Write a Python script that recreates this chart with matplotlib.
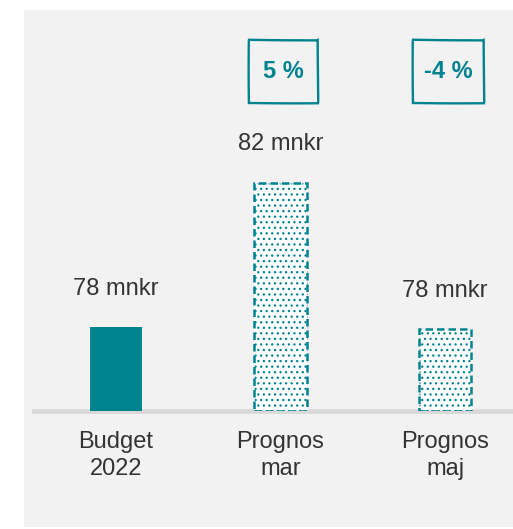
import matplotlib.pyplot as plt
from matplotlib.patches import Rectangle

# --------------------------------------------------------------------------- #
# Data                                                                        #
# --------------------------------------------------------------------------- #
categories = ["Budget\n2022", "Prognos\nmar", "Prognos\nmaj"]
values = [78.0, 82.0, 77.95]
value_labels = ["78 mnkr", "82 mnkr", "78 mnkr"]
is_forecast = [False, True, True]
change_labels = [None, "5 %", "-4 %"]

TEAL = "#00838F"
TEXT = "#333333"
PANEL = "#F2F2F2"
BASE = "#D9D9D9"

W, H = 513, 529
fig = plt.figure(figsize=(W / 100, H / 100), dpi=100)
plt.rcParams["font.family"] = ["Liberation Sans", "DejaVu Sans"]
plt.rcParams["hatch.linewidth"] = 0.9

# grey panel behind everything
fig.patches.append(Rectangle((24 / W, 2 / H), 1 - 24 / W, (527 - 2 - 8) / H,
                             transform=fig.transFigure, facecolor=PANEL,
                             edgecolor="none", zorder=-10))

ax = fig.add_axes([34 / W, (H - 411) / H, (W - 34) / W, 401 / H])
ax.set_facecolor("none")

x = list(range(len(categories)))
for xi, v, fc in zip(x, values, is_forecast):
    if fc:
        ax.bar(xi, v - 75.67, bottom=75.67, width=0.32, facecolor="white",
               edgecolor=TEAL, hatch="...", linewidth=1.8,
               linestyle=(0, (3, 1.6)), zorder=2)
    else:
        ax.bar(xi, v - 75.67, bottom=75.67, width=0.32, color=TEAL, zorder=2)

for xi, v, lab in zip(x, values, value_labels):
    ax.annotate(lab, (xi, v), xytext=(0, 27.5), textcoords="offset points",
                ha="center", va="center", fontsize=17, color=TEXT)

for xi, lab in zip(x, change_labels):
    if lab is None:
        continue
    bw = 0.42 if len(lab) < 4 else 0.43
    box = Rectangle((xi + 0.02 - bw / 2, 0.7675), bw, 0.1575,
                    transform=ax.get_xaxis_transform(), facecolor="none",
                    edgecolor=TEAL, linewidth=1.7, clip_on=False, zorder=3)
    box.set_sketch_params(scale=0.35, length=200, randomness=2)
    ax.add_patch(box)
    ax.text(xi + 0.02, 0.846, lab, transform=ax.get_xaxis_transform(),
            ha="center", va="center", fontsize=17, fontweight="bold",
            color=TEAL)

ax.set_xlim(-0.4985, 2.413)
ax.set_ylim(75.67, 75.67 + 400 / 36)
ax.set_xticks(x, categories)
ax.tick_params(axis="x", length=0, pad=14.5, labelsize=17, labelcolor=TEXT)
ax.tick_params(axis="y", left=False, labelleft=False)
for t in ax.get_xticklabels():
    t.set_linespacing(1.27)
for s in ["top", "right", "left"]:
    ax.spines[s].set_visible(False)
ax.spines["bottom"].set_color(BASE)
ax.spines["bottom"].set_linewidth(3.4)
ax.spines["bottom"].set_zorder(1)

fig.savefig("out.png", dpi=100, facecolor="white")
